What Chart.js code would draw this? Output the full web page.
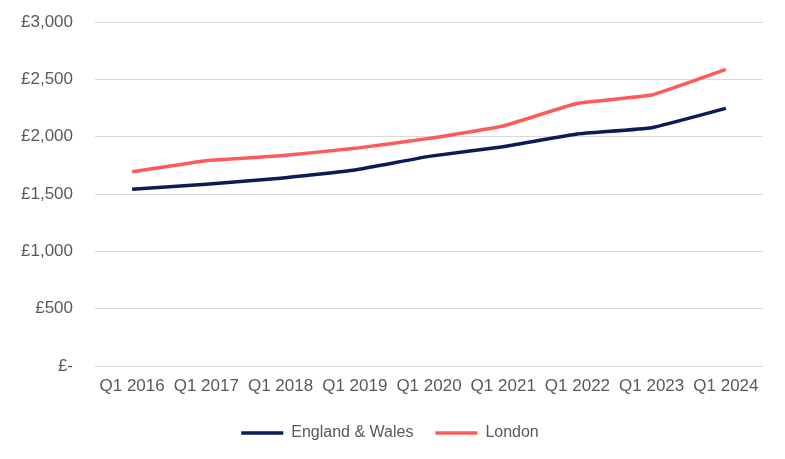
<!DOCTYPE html>
<html lang="en">
<head>
    <meta charset="UTF-8">
    <title>Average rent</title>
    <script src="https://cdn.jsdelivr.net/npm/chart.js@4.4.1/dist/chart.umd.min.js"></script>
    <style>
        html, body { margin: 0; padding: 0; background: #fff; }
        #wrap { width: 785px; height: 459px; }
    </style>
</head>
<body>
    <div id="wrap"><canvas id="myChart"></canvas></div>

    <script>
        // values
        const labels = ['Q1 2016', 'Q1 2017', 'Q1 2018', 'Q1 2019', 'Q1 2020', 'Q1 2021', 'Q1 2022', 'Q1 2023', 'Q1 2024'];
        const englandWales = [1541, 1585, 1638, 1709, 1828, 1913, 2023, 2078, 2247];
        const london = [1694, 1790, 1834, 1898, 1985, 2093, 2291, 2363, 2587];
        const yTicks = [0, 500, 1000, 1500, 2000, 2500, 3000];

        const textColor = '#595959';
        const fontFamily = '"Liberation Sans", Arial, sans-serif';

        const chart = new Chart('myChart', {
            type: 'line',
            data: {
                labels: labels,
                datasets: [{
                    label: 'England & Wales',
                    data: englandWales,
                    borderColor: '#0b1c55',
                    backgroundColor: '#0b1c55',
                    borderWidth: 3.5,
                    pointRadius: 0,
                    pointStyle: 'line',
                    tension: 0.1,
                    fill: false
                }, {
                    label: 'London',
                    data: london,
                    borderColor: '#ff5a5a',
                    backgroundColor: '#ff5a5a',
                    borderWidth: 3.5,
                    pointRadius: 0,
                    pointStyle: 'line',
                    tension: 0.1,
                    fill: false
                }]
            },
            options: {
                responsive: true,
                maintainAspectRatio: false,
                animation: false,
                layout: {
                    padding: { left: 17, right: 22, top: 22, bottom: 8 }
                },
                plugins: {
                    legend: {
                        display: true,
                        position: 'bottom',
                        labels: {
                            usePointStyle: true,
                            pointStyleWidth: 42,
                            color: textColor,
                            font: { family: fontFamily, size: 16 },
                            padding: 22
                        }
                    },
                    tooltip: { enabled: false }
                },
                scales: {
                    x: {
                        offset: true,
                        afterFit: (axis) => { axis.height = 37; },
                        grid: { display: false },
                        border: { display: false },
                        ticks: {
                            color: textColor,
                            font: { family: fontFamily, size: 17 },
                            maxRotation: 0,
                            autoSkip: false,
                            padding: 2
                        }
                    },
                    y: {
                        min: 0,
                        max: 3000,
                        afterBuildTicks: (axis) => {
                            axis.ticks = yTicks.map(v => ({ value: v }));
                        },
                        afterFit: (axis) => { axis.width = 78; },
                        grid: {
                            color: '#d9d9d9',
                            lineWidth: 1,
                            drawTicks: true,
                            tickLength: 22,
                            tickColor: 'rgba(0,0,0,0)'
                        },
                        border: { display: false },
                        ticks: {
                            color: textColor,
                            font: { family: fontFamily, size: 17 },
                            padding: 0,
                            callback: (v) => v === 0 ? '£-' : '£' + v.toLocaleString('en-GB')
                        }
                    }
                }
            }
        });
    </script>
</body>
</html>
